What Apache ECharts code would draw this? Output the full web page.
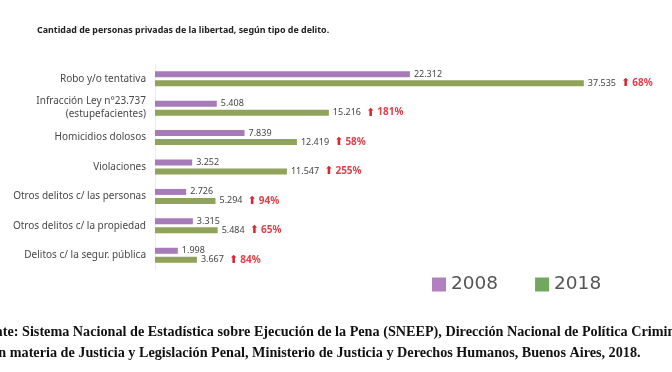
<!DOCTYPE html>
<html><head><meta charset="utf-8">
<script src="https://cdn.jsdelivr.net/npm/echarts@6/dist/echarts.min.js"></script>
<style>html,body{margin:0;padding:0;background:#fff}#c{width:672px;height:372px}</style>
</head><body><div id="c"></div>
<script>
const categories = ["Robo y/o tentativa","Infracción Ley n°23.737\n(estupefacientes)","Homicidios dolosos","Violaciones","Otros delitos c/ las personas","Otros delitos c/ la propiedad","Delitos c/ la segur. pública"];
const values2008 = [22312, 5408, 7839, 3252, 2726, 3315, 1998];
const values2018 = [37535, 15216, 12419, 11547, 5294, 5484, 3667];
const increases = ["68%", "181%", "58%", "255%", "94%", "65%", "84%"];
const seriesNames = ["2008", "2018"];
const titleText = "Cantidad de personas privadas de la libertad, según tipo de delito.";
const sourceLine1 = "Fuente: Sistema Nacional de Estadística sobre Ejecución de la Pena (SNEEP), Dirección Nacional de Política Criminal";
const sourceLine2 = "en materia de Justicia y Legislación Penal, Ministerio de Justicia y Derechos Humanos, Buenos Aires, 2018.";

const fmt = v => String(v).replace(/\B(?=(\d{3})+(?!\d))/g, ".");
const chart = echarts.init(document.getElementById('c'));
chart.setOption({
  animation: false,
  backgroundColor: '#fff',
  textStyle: { fontFamily: 'Noto Sans' },
  grid: { left: 155, right: 60, top: 64, bottom: 102 },
  xAxis: { type: 'value', min: 0, max: 40000, show: false },
  yAxis: {
    type: 'category', data: categories, inverse: true,
    axisLine: { show: true, lineStyle: { color: '#ececec', width: 1 } },
    axisTick: { show: false },
    axisLabel: { color: '#484848', fontSize: 10, margin: 9, lineHeight: 13, fontFamily: 'Noto Sans' }
  },
  legend: {
    data: [
      { name: seriesNames[0], itemStyle: { color: '#b27fbf' } },
      { name: seriesNames[1], itemStyle: { color: '#70a860' } }
    ],
    left: 432, top: 275, padding: 0, itemWidth: 14, itemHeight: 14, itemGap: 37,
    icon: 'rect',
    textStyle: { fontSize: 18.5, color: '#555', fontFamily: 'DejaVu Sans' }
  },
  series: [
    {
      name: seriesNames[0], type: 'bar', data: values2008, barWidth: 6, barGap: '50%',
      itemStyle: { color: '#a77bb9' },
      label: { show: true, position: 'right', distance: 4, color: '#444', fontSize: 9,
        formatter: p => fmt(p.value) }
    },
    {
      name: seriesNames[1], type: 'bar', data: values2018, barWidth: 6,
      itemStyle: { color: '#8fa35a' },
      label: { show: true, position: 'right', distance: 4,
        formatter: p => '{v|' + fmt(p.value) + '} {a|⬆}{p|' + increases[p.dataIndex] + '}',
        rich: {
          v: { color: '#444', fontSize: 9, fontFamily: 'Noto Sans' },
          a: { color: '#d9262f', fontSize: 11, fontFamily: 'DejaVu Sans', padding: [0, 2, 0, 2] },
          p: { color: '#e0404a', fontSize: 10, fontWeight: 'bold', fontFamily: 'Noto Sans' }
        } }
    }
  ],
  graphic: [
    { type: 'text', left: 37, top: 26, style: { text: titleText, font: 'bold 8.9px "Noto Sans"', fill: '#222' } },
    { type: 'text', left: -28, top: 325, style: { text: sourceLine1, font: 'bold 14.2px "Liberation Serif"', fill: '#111' } },
    { type: 'text', left: -8, top: 346, style: { text: sourceLine2, font: 'bold 14.2px "Liberation Serif"', fill: '#111' } }
  ]
});
</script></body></html>
